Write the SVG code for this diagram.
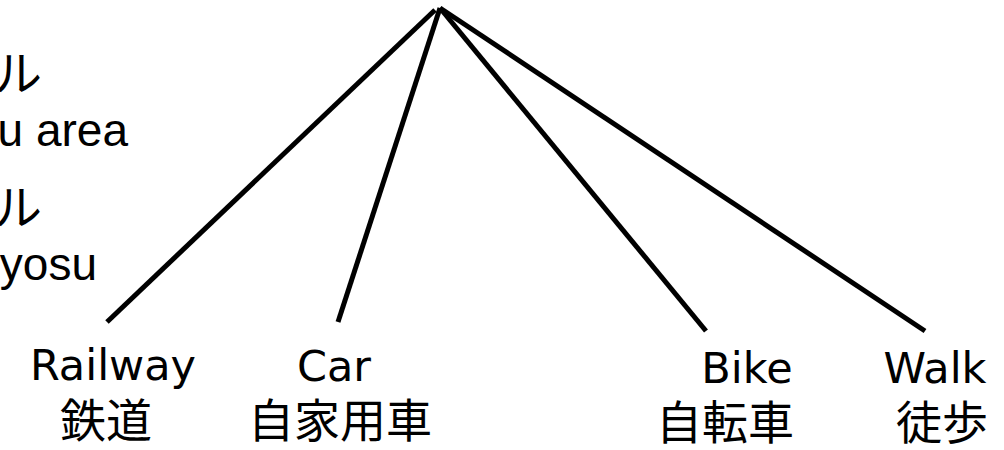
<svg xmlns="http://www.w3.org/2000/svg" width="1004" height="450" viewBox="0 0 1004 450">
<style>
.lbl{font-family:"DejaVu Sans","Noto Sans CJK JP",sans-serif;font-size:43px;fill:#000;text-anchor:middle}
.cjk{font-family:"Noto Sans CJK JP",sans-serif;font-size:46px;fill:#000;text-anchor:middle}
.side{font-family:"Liberation Sans","Noto Sans CJK JP",sans-serif;font-size:46px;fill:#000;text-anchor:end}
.sidej{font-family:"Noto Sans CJK JP",sans-serif;font-size:48px;fill:#000;text-anchor:end}
.edge{stroke:#000;stroke-width:5;fill:none}
</style>
<rect width="1004" height="450" fill="#fff"/>
<g id="side-text">
<text class="sidej" x="42" y="91">ル</text>
<text class="side" x="128" y="146">u area</text>
<text class="sidej" x="42" y="225">ル</text>
<text class="side" x="97" y="280">yosu</text>
</g>
<g id="connectors">
<line class="edge" x1="435" y1="10" x2="107" y2="322"/>
<line class="edge" x1="440" y1="8" x2="338" y2="322"/>
<line class="edge" x1="440" y1="8" x2="706" y2="331"/>
<line class="edge" x1="440" y1="8" x2="925" y2="331"/>
</g>
<g id="node-railway">
<text class="lbl" x="113" y="380">Railway</text>
<text class="cjk" x="106" y="437">鉄道</text>
</g>
<g id="node-car">
<text class="lbl" x="334" y="381">Car</text>
<text class="cjk" x="340" y="437">自家用車</text>
</g>
<g id="node-bike">
<text class="lbl" x="747" y="383">Bike</text>
<text class="cjk" x="725" y="439">自転車</text>
</g>
<g id="node-walk">
<text class="lbl" x="935" y="383">Walk</text>
<text class="cjk" x="942" y="439">徒歩</text>
</g>
</svg>
